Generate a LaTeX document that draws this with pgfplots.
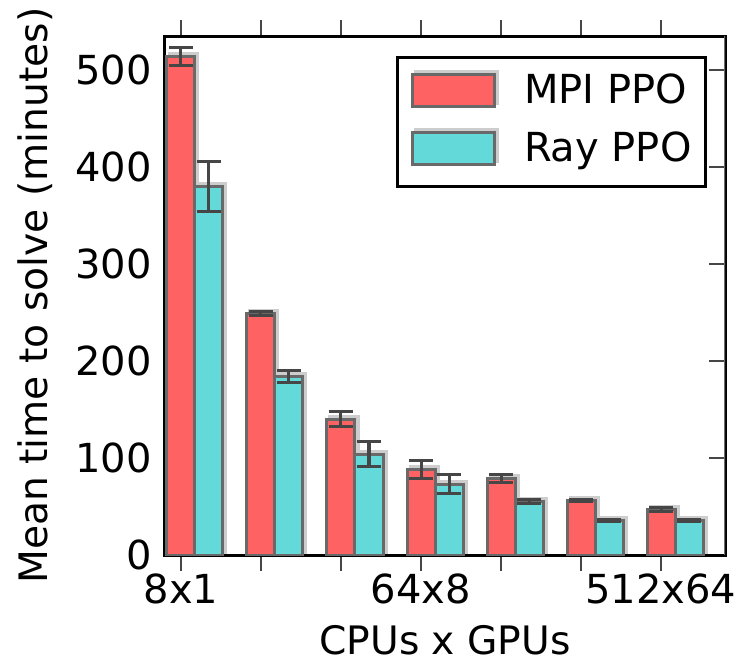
\documentclass[border=0pt]{standalone}
\usepackage{pgfplots}
\pgfplotsset{compat=1.18}
\usepackage{fontspec}
\setmainfont{DejaVu Sans}
\definecolor{mpired}{RGB}{255,98,98}
\definecolor{raycyan}{RGB}{100,217,217}
\definecolor{edgegray}{RGB}{105,105,105}
\definecolor{errgray}{RGB}{70,70,70}
\definecolor{shadowgray}{RGB}{205,205,205}
\definecolor{spinegray}{RGB}{110,110,110}
\pgfplotsset{
  barlegend/.style={legend image code/.code={%
    \path[fill=#1, draw=edgegray, line width=1.5pt] (0pt,-6.5pt) rectangle (41pt,9.5pt);}}
}
\begin{document}
\begin{tikzpicture}
\begin{axis}[
  width=280pt, height=259.5pt, scale only axis,
  xmin=-0.2, xmax=6.8, ymin=0, ymax=535,
  xtick={0,1,2,3,4,5,6},
  xticklabels={8x1,,,64x8,,,512x64},
  ytick={0,100,200,300,400,500},
  tick align=inside,
  xtick pos=both, ytick pos=both,
  major tick length=8pt,
  tick style={errgray, line width=1.2pt},
  axis line style={black, line width=1.5pt},
  ticklabel style={font=\fontsize{20}{24}\selectfont},
  xticklabel style={anchor=north, inner sep=0pt, yshift=-1pt},
  yticklabel style={anchor=east, inner sep=0pt, xshift=-6.5pt},
  /pgf/number format/assume math mode=true,
  xlabel={CPUs x GPUs},
  ylabel={Mean time to solve (minutes)},
  label style={font=\fontsize{19.6}{23}\selectfont},
  xlabel style={at={(axis description cs:0.5,0)}, anchor=north, inner sep=0pt, yshift=-35pt},
  ylabel style={at={(axis description cs:0,0.5)}, anchor=south, inner sep=0pt, yshift=56pt},
  ybar, bar width=0.35,
  legend style={at={(0.968,0.961)}, anchor=north east, draw=black, line width=1.5pt,
    font=\fontsize{20}{24}\selectfont, row sep=9pt, column sep=14pt,
    inner xsep=7pt, inner ysep=7.5pt,
    nodes={inner xsep=0pt, inner ysep=0pt, text height=15pt, text depth=5pt},
    cells={anchor=west}},
  legend cell align=left,
]
\coordinate (sw) at (rel axis cs:0,0);
\coordinate (ne) at (rel axis cs:1,1);
\addplot[barlegend=mpired, bar shift=0, fill=mpired, draw=edgegray, line width=1.5pt,
  preaction={fill=shadowgray, draw=shadowgray, transform canvas={shift={(1.5pt,1.5pt)}}},
  error bars/.cd, y dir=both, y explicit,
  error bar style={errgray, line width=1.5pt},
  error mark options={rotate=90, mark size=6pt, errgray, line width=1.5pt}]
  coordinates {
  (0,514) +- (0,9)
  (1,249) +- (0,2)
  (2,140) +- (0,8)
  (3,88) +- (0,9)
  (4,79) +- (0,4)
  (5,56) +- (0,1)
  (6,47) +- (0,2)
};
\addplot[barlegend=raycyan, bar shift=0.35, fill=raycyan, draw=edgegray, line width=1.5pt,
  preaction={fill=shadowgray, draw=shadowgray, transform canvas={shift={(1.5pt,1.5pt)}}},
  error bars/.cd, y dir=both, y explicit,
  error bar style={errgray, line width=1.5pt},
  error mark options={rotate=90, mark size=6pt, errgray, line width=1.5pt}]
  coordinates {
  (0,380) +- (0,26)
  (1,184) +- (0,6)
  (2,104) +- (0,13)
  (3,73) +- (0,10)
  (4,55) +- (0,2)
  (5,36) +- (0,1)
  (6,36) +- (0,1)
};
\legend{MPI PPO, Ray PPO}
\draw[spinegray, line width=1.5pt] (rel axis cs:1,0) -- (rel axis cs:1,1);
\end{axis}
\pgfresetboundingbox
\path[use as bounding box] ([xshift=-82.5pt,yshift=-53pt]sw) rectangle ([xshift=9pt,yshift=18pt]ne);
\end{tikzpicture}
\end{document}
